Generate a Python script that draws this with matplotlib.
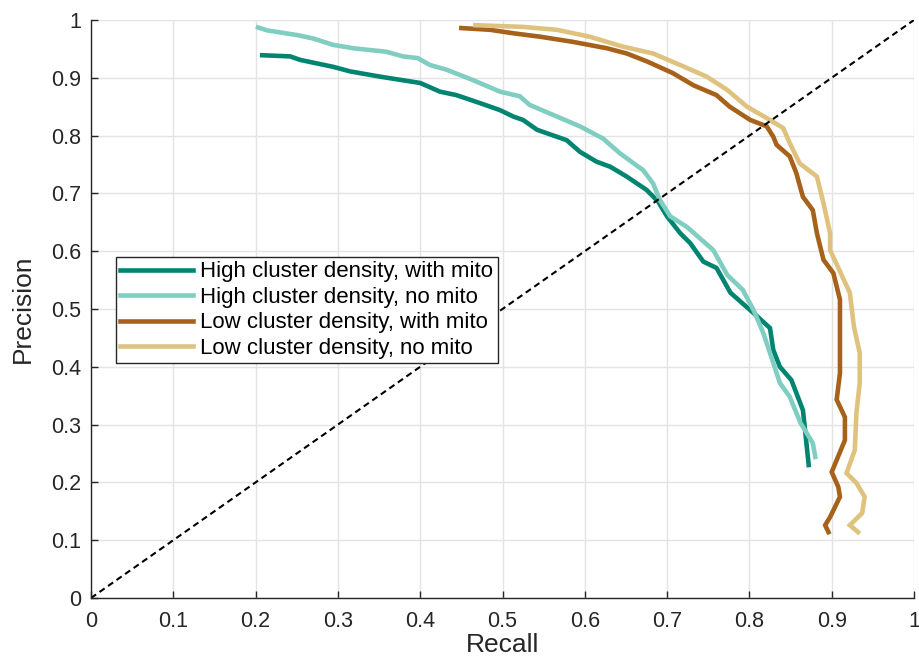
import matplotlib
matplotlib.use("Agg")
import matplotlib.pyplot as plt

plt.rcParams['font.family'] = ['Liberation Sans', 'DejaVu Sans']

# High cluster density, with mito
hw_x = [0.208, 0.242, 0.254, 0.294, 0.315, 0.351, 0.400, 0.424, 0.444, 0.473, 0.497, 0.513,
        0.525, 0.542, 0.578, 0.594, 0.614, 0.631, 0.651, 0.675, 0.689, 0.700, 0.716, 0.728,
        0.744, 0.760, 0.777, 0.805, 0.825, 0.829, 0.837, 0.851, 0.865, 0.868, 0.872]
hw_y = [0.939, 0.937, 0.931, 0.919, 0.911, 0.902, 0.891, 0.876, 0.870, 0.856, 0.844, 0.833,
        0.827, 0.810, 0.792, 0.772, 0.755, 0.746, 0.729, 0.706, 0.686, 0.660, 0.631, 0.614,
        0.582, 0.571, 0.528, 0.493, 0.467, 0.429, 0.400, 0.377, 0.325, 0.285, 0.230]

# High cluster density, no mito
hn_x = [0.203, 0.214, 0.250, 0.270, 0.294, 0.319, 0.359, 0.379, 0.397, 0.412, 0.432, 0.464,
        0.497, 0.521, 0.533, 0.566, 0.594, 0.622, 0.643, 0.671, 0.683, 0.691, 0.704, 0.724,
        0.756, 0.773, 0.792, 0.805, 0.817, 0.837, 0.849, 0.862, 0.877, 0.880]
hn_y = [0.987, 0.982, 0.974, 0.968, 0.957, 0.951, 0.945, 0.937, 0.934, 0.922, 0.914, 0.896,
        0.876, 0.868, 0.853, 0.833, 0.816, 0.795, 0.769, 0.740, 0.717, 0.689, 0.660, 0.642,
        0.602, 0.559, 0.533, 0.498, 0.458, 0.372, 0.348, 0.303, 0.268, 0.244]

# Low cluster density, with mito
lw_x = [0.450, 0.485, 0.513, 0.546, 0.586, 0.627, 0.651, 0.676, 0.707, 0.732, 0.760, 0.776,
        0.801, 0.821, 0.829, 0.833, 0.849, 0.857, 0.865, 0.877, 0.882, 0.890, 0.902, 0.910,
        0.910, 0.910, 0.906, 0.916, 0.916, 0.900, 0.908, 0.910, 0.898, 0.892, 0.896]
lw_y = [0.986, 0.983, 0.977, 0.971, 0.962, 0.951, 0.942, 0.928, 0.908, 0.887, 0.870, 0.850,
        0.827, 0.816, 0.798, 0.784, 0.764, 0.735, 0.694, 0.671, 0.631, 0.585, 0.562, 0.516,
        0.458, 0.389, 0.343, 0.313, 0.273, 0.218, 0.192, 0.175, 0.140, 0.126, 0.114]

# Low cluster density, no mito
ln_x = [0.467, 0.525, 0.566, 0.606, 0.646, 0.683, 0.716, 0.748, 0.773, 0.797, 0.825, 0.841,
        0.849, 0.861, 0.882, 0.890, 0.898, 0.898, 0.922, 0.927, 0.934, 0.934, 0.930, 0.928,
        0.918, 0.930, 0.940, 0.937, 0.922, 0.932]
ln_y = [0.991, 0.988, 0.983, 0.971, 0.954, 0.942, 0.922, 0.902, 0.879, 0.850, 0.827, 0.813,
        0.787, 0.752, 0.729, 0.683, 0.631, 0.602, 0.528, 0.469, 0.424, 0.372, 0.320, 0.256,
        0.216, 0.199, 0.175, 0.147, 0.126, 0.114]

labels = ["High cluster density, with mito", "High cluster density, no mito",
          "Low cluster density, with mito", "Low cluster density, no mito"]
colors = ["#018571", "#80cdc1", "#a6611a", "#dfc27d"]
ticks = [0, 0.1, 0.2, 0.3, 0.4, 0.5, 0.6, 0.7, 0.8, 0.9, 1]
tick_labels = ["0", "0.1", "0.2", "0.3", "0.4", "0.5", "0.6", "0.7", "0.8", "0.9", "1"]

fig = plt.figure(figsize=(9.19, 6.57), dpi=100)
ax = fig.add_axes([0.099, 0.0898, 0.8956, 0.8798])

for xs, ys, c, lab in zip([hw_x, hn_x, lw_x, ln_x], [hw_y, hn_y, lw_y, ln_y], colors, labels):
    ax.plot(xs, ys, color=c, lw=3.3, label=lab, solid_joinstyle='miter')

ax.plot([0, 1], [0, 1], color='black', lw=1.5, ls=(0, (3, 2)))

ax.set_xlim(0, 1)
ax.set_ylim(0, 1)
ax.set_xticks(ticks)
ax.set_xticklabels(tick_labels)
ax.set_yticks(ticks)
ax.set_yticklabels(tick_labels)
ax.tick_params(direction='in', length=5, width=1, labelsize=15.5, colors='#262626')
ax.tick_params(axis='x', pad=9)
ax.tick_params(axis='y', pad=7)
ax.grid(True, color='#e3e3e3', lw=1)
ax.set_axisbelow(True)
for s in ['top', 'right']:
    ax.spines[s].set_visible(False)
for s in ['left', 'bottom']:
    ax.spines[s].set_color('#262626')
    ax.spines[s].set_linewidth(1)
ax.set_xlabel("Recall", fontsize=19, color='#262626')
ax.set_ylabel("Precision", fontsize=19, color='#262626')
ax.xaxis.set_label_coords(0.5, -0.060)
ax.yaxis.set_label_coords(-0.068, 0.5)

leg = ax.legend(loc='upper left', bbox_to_anchor=(0.030, 0.590), fontsize=16,
                handlelength=3.3, handletextpad=0.3, labelspacing=0.2,
                borderpad=0.2, fancybox=False, framealpha=1, edgecolor='#262626',
                borderaxespad=0)
leg.get_frame().set_linewidth(1)

fig.savefig("out.png", dpi=100)
